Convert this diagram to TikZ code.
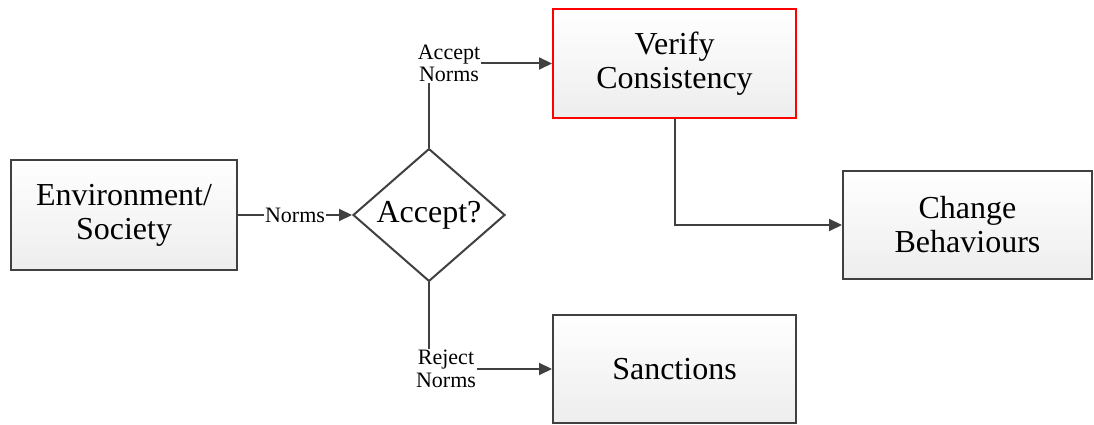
\documentclass[tikz,border=0pt]{standalone}
\usepackage{fontspec}
\setmainfont{Liberation Serif}
\usetikzlibrary{shapes.geometric,arrows.meta}
\definecolor{ln}{HTML}{404040}
\definecolor{boxbot}{HTML}{EDEDED}
\tikzset{
  box/.style={draw=ln, line width=2pt, top color=white, bottom color=boxbot,
    inner sep=0pt, align=center, font=\fontsize{32}{34}\selectfont},
  decision/.style={diamond, draw=ln, line width=2pt, fill=white, inner sep=0pt,
    minimum width=152pt, minimum height=132pt, font=\fontsize{32}{34}\selectfont},
  arr/.style={draw=ln, line width=2pt, -{Triangle[length=13pt,width=12pt]}},
  lbl/.style={fill=white, inner sep=1pt, align=center, text=black,
    font=\fontsize{22}{22.5}\selectfont}
}
\begin{document}
\begin{tikzpicture}[x=1pt,y=1pt]
\useasboundingbox (0,0) rectangle (1094,425);
\node[box, minimum width=226pt, minimum height=110pt] (env) at (124,210) {Environment/\\Society};
\node[decision] (dia) at (429,210) {Accept?};
\node[box, draw=red, minimum width=243pt, minimum height=109pt] (ver) at (674.5,361.5) {Verify\\Consistency};
\node[box, minimum width=249pt, minimum height=108pt] (chg) at (967.5,200) {Change\\Behaviours};
\node[box, minimum width=243pt, minimum height=108pt] (san) at (674.5,56) {Sanctions};
\draw[arr] (env) -- node[lbl]{Norms} (dia);
\draw[arr] (dia.north) |- node[lbl, pos=0.5, xshift=20pt]{Accept\\Norms} (ver.west);
\draw[arr] (dia.south) |- node[lbl, pos=0.5, xshift=17pt]{Reject\\Norms} (san.west);
\draw[arr] (ver.south) |- (chg.west);
\end{tikzpicture}
\end{document}
